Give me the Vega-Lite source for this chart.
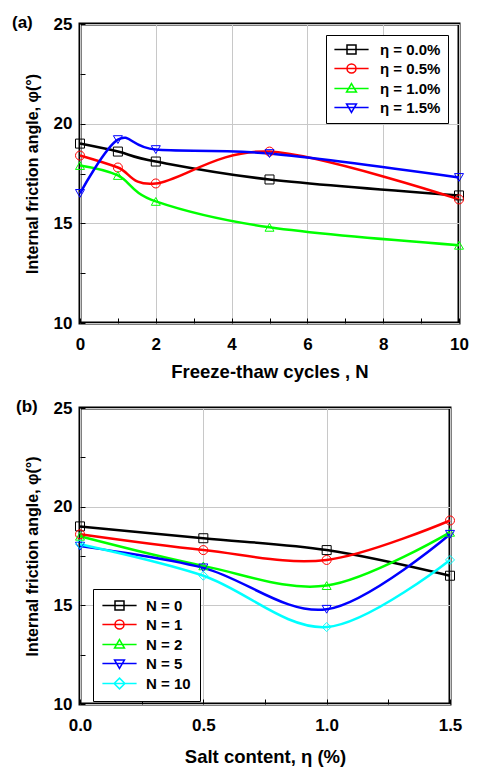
{
  "$schema": "https://vega.github.io/schema/vega-lite/v6.json",
  "padding": {"left": 10, "top": 12, "right": 5, "bottom": 0},
  "background": "white",
  "spacing": 14,
  "resolve": {"scale": {"color": "independent"}, "legend": {"color": "independent"}},
  "config": {
    "font": "Liberation Sans",
    "view": {"stroke": "black", "strokeWidth": 3},
    "axis": {
      "labelFont": "Liberation Sans", "labelFontSize": 17, "labelFontWeight": "bold", "labelColor": "black",
      "titleFont": "Liberation Sans", "titleFontSize": 18.5, "titleFontWeight": "bold", "titleColor": "black",
      "domain": false, "tickColor": "black", "tickSize": -5, "tickWidth": 1,
      "gridColor": "#c8c8c8", "gridWidth": 1, "labelFlush": false
    },
    "axisX": {"titlePadding": 10, "labelPadding": 18},
    "axisY": {"titlePadding": 13, "labelPadding": 13, "titleFontSize": 16},
    "point": {"filled": false, "size": 81, "strokeWidth": 1, "opacity": 1},
    "title": {"font": "Liberation Sans", "fontSize": 17, "fontWeight": "bold", "anchor": "start", "frame": "group", "color": "black"}
  },
  "vconcat": [
    {
      "width": 379,
      "height": 299,
      "title": {"text": "(a)", "dx": -68, "dy": 30, "baseline": "alphabetic", "offset": 0},
      "data": {"values": [
        {"series": "η = 0.0%", "N": 0, "phi": 19.0},
        {"series": "η = 0.0%", "N": 1, "phi": 18.6},
        {"series": "η = 0.0%", "N": 2, "phi": 18.1},
        {"series": "η = 0.0%", "N": 5, "phi": 17.2},
        {"series": "η = 0.0%", "N": 10, "phi": 16.4},
        {"series": "η = 0.5%", "N": 0, "phi": 18.4},
        {"series": "η = 0.5%", "N": 1, "phi": 17.8},
        {"series": "η = 0.5%", "N": 2, "phi": 17.0},
        {"series": "η = 0.5%", "N": 5, "phi": 18.6},
        {"series": "η = 0.5%", "N": 10, "phi": 16.2},
        {"series": "η = 1.0%", "N": 0, "phi": 17.9},
        {"series": "η = 1.0%", "N": 1, "phi": 17.4},
        {"series": "η = 1.0%", "N": 2, "phi": 16.1},
        {"series": "η = 1.0%", "N": 5, "phi": 14.8},
        {"series": "η = 1.0%", "N": 10, "phi": 13.9},
        {"series": "η = 1.5%", "N": 0, "phi": 16.5},
        {"series": "η = 1.5%", "N": 1, "phi": 19.2},
        {"series": "η = 1.5%", "N": 2, "phi": 18.7},
        {"series": "η = 1.5%", "N": 5, "phi": 18.5},
        {"series": "η = 1.5%", "N": 10, "phi": 17.3}
      ]},
      "encoding": {
        "x": {
          "field": "N", "type": "quantitative",
          "scale": {"domain": [0, 10], "nice": false},
          "axis": {
            "values": [0, 1, 2, 3, 4, 5, 6, 7, 8, 9, 10],
            "labelExpr": "datum.value % 2 === 0 ? datum.label : ''",
            "gridOpacity": {"condition": {"test": "datum.value % 2 === 0", "value": 1}, "value": 0},
            "title": "Freeze-thaw cycles , N"
          }
        },
        "y": {
          "field": "phi", "type": "quantitative",
          "scale": {"domain": [10, 25], "nice": false, "zero": false},
          "axis": {
            "values": [10, 12.5, 15, 17.5, 20, 22.5, 25],
            "labelExpr": "datum.value % 5 === 0 ? datum.label : ''",
            "gridOpacity": {"condition": {"test": "datum.value % 5 === 0", "value": 1}, "value": 0},
            "title": "Internal friction angle, φ(°)"
          }
        },
        "color": {"field": "series", "type": "nominal",
          "scale": {"domain": ["η = 0.0%", "η = 0.5%", "η = 1.0%", "η = 1.5%"], "range": ["#000000", "#ff0000", "#00ff00", "#0000ff"]},
          "legend": {"orient": "none", "legendX": 246, "legendY": 11, "title": null,
            "strokeColor": "black", "fillColor": "white", "padding": 7,
            "labelFont": "Liberation Sans", "labelFontSize": 15, "labelFontWeight": "bold", "labelColor": "black",
            "symbolSize": 81, "symbolStrokeWidth": 1.5, "symbolFillColor": "transparent", "symbolOffset": 11, "labelOffset": 21, "rowPadding": 3,
            "encoding": {"symbols": {"shape": {"value": {"expr": "['M-3.8,0H3.8M-1,-1H1V1H-1Z','M-3.8,0H3.8M1,0A1,1,0,1,1,-1,0A1,1,0,1,1,1,0Z','M-3.8,0H3.8M0,-1.1L1.1,0.8H-1.1Z','M-3.8,0H3.8M0,1.1L1.1,-0.8H-1.1Z'][indexof(['η = 0.0%','η = 0.5%','η = 1.0%','η = 1.5%'], datum.value)]"}}, "fill": {"value": "transparent"}}}
          }}
      },
      "layer": [
        {"mark": {"type": "line", "interpolate": "cardinal", "strokeWidth": 2.5}},
        {"transform": [{"filter": {"field": "series", "equal": "η = 0.0%"}}], "mark": {"type": "point", "shape": "square"}},
        {"transform": [{"filter": {"field": "series", "equal": "η = 0.5%"}}], "mark": {"type": "point", "shape": "circle"}},
        {"transform": [{"filter": {"field": "series", "equal": "η = 1.0%"}}], "mark": {"type": "point", "shape": "triangle-up"}},
        {"transform": [{"filter": {"field": "series", "equal": "η = 1.5%"}}], "mark": {"type": "point", "shape": "triangle-down"}}
      ]
    },
    {
      "width": 370,
      "height": 296,
      "title": {"text": "(b)", "dx": -64, "dy": 30, "baseline": "alphabetic", "offset": 0},
      "data": {"values": [
        {"series": "N = 0", "eta": 0, "phi": 19.0},
        {"series": "N = 0", "eta": 0.5, "phi": 18.4},
        {"series": "N = 0", "eta": 1.0, "phi": 17.8},
        {"series": "N = 0", "eta": 1.5, "phi": 16.5},
        {"series": "N = 1", "eta": 0, "phi": 18.6},
        {"series": "N = 1", "eta": 0.5, "phi": 17.8},
        {"series": "N = 1", "eta": 1.0, "phi": 17.3},
        {"series": "N = 1", "eta": 1.5, "phi": 19.3},
        {"series": "N = 2", "eta": 0, "phi": 18.5},
        {"series": "N = 2", "eta": 0.5, "phi": 17.0},
        {"series": "N = 2", "eta": 1.0, "phi": 16.0},
        {"series": "N = 2", "eta": 1.5, "phi": 18.7},
        {"series": "N = 5", "eta": 0, "phi": 18.0},
        {"series": "N = 5", "eta": 0.5, "phi": 16.9},
        {"series": "N = 5", "eta": 1.0, "phi": 14.8},
        {"series": "N = 5", "eta": 1.5, "phi": 18.6},
        {"series": "N = 10", "eta": 0, "phi": 18.1},
        {"series": "N = 10", "eta": 0.5, "phi": 16.5},
        {"series": "N = 10", "eta": 1.0, "phi": 13.9},
        {"series": "N = 10", "eta": 1.5, "phi": 17.3}
      ]},
      "encoding": {
        "x": {
          "field": "eta", "type": "quantitative",
          "scale": {"domain": [0, 1.5], "nice": false},
          "axis": {
            "values": [0, 0.25, 0.5, 0.75, 1.0, 1.25, 1.5],
            "labelExpr": "(datum.value * 2) % 1 === 0 ? format(datum.value, '.1f') : ''",
            "gridOpacity": {"condition": {"test": "(datum.value * 2) % 1 === 0", "value": 1}, "value": 0},
            "title": "Salt content, η (%)",
            "titlePadding": 14
          }
        },
        "y": {
          "field": "phi", "type": "quantitative",
          "scale": {"domain": [10, 25], "nice": false, "zero": false},
          "axis": {
            "values": [10, 12.5, 15, 17.5, 20, 22.5, 25],
            "labelExpr": "datum.value % 5 === 0 ? datum.label : ''",
            "gridOpacity": {"condition": {"test": "datum.value % 5 === 0", "value": 1}, "value": 0},
            "title": "Internal friction angle, φ(°)"
          }
        },
        "color": {"field": "series", "type": "nominal",
          "scale": {"domain": ["N = 0", "N = 1", "N = 2", "N = 5", "N = 10"], "range": ["#000000", "#ff0000", "#00ff00", "#0000ff", "#00ffff"]},
          "legend": {"orient": "none", "legendX": 13, "legendY": 181, "title": null,
            "strokeColor": "black", "fillColor": "white", "padding": 9,
            "labelFont": "Liberation Sans", "labelFontSize": 15, "labelFontWeight": "bold", "labelColor": "black",
            "symbolSize": 81, "symbolStrokeWidth": 1.5, "symbolFillColor": "transparent", "symbolOffset": 10, "labelOffset": 19, "rowPadding": 3,
            "encoding": {"symbols": {"shape": {"value": {"expr": "['M-3.8,0H3.8M-1,-1H1V1H-1Z','M-3.8,0H3.8M1,0A1,1,0,1,1,-1,0A1,1,0,1,1,1,0Z','M-3.8,0H3.8M0,-1.1L1.1,0.8H-1.1Z','M-3.8,0H3.8M0,1.1L1.1,-0.8H-1.1Z','M-3.8,0H3.8M0,-1.2L1.2,0L0,1.2L-1.2,0Z'][indexof(['N = 0','N = 1','N = 2','N = 5','N = 10'], datum.value)]"}}, "fill": {"value": "transparent"}}}
          }}
      },
      "layer": [
        {"mark": {"type": "line", "interpolate": "cardinal", "strokeWidth": 2.5}},
        {"transform": [{"filter": {"field": "series", "equal": "N = 0"}}], "mark": {"type": "point", "shape": "square"}},
        {"transform": [{"filter": {"field": "series", "equal": "N = 1"}}], "mark": {"type": "point", "shape": "circle"}},
        {"transform": [{"filter": {"field": "series", "equal": "N = 2"}}], "mark": {"type": "point", "shape": "triangle-up"}},
        {"transform": [{"filter": {"field": "series", "equal": "N = 5"}}], "mark": {"type": "point", "shape": "triangle-down"}},
        {"transform": [{"filter": {"field": "series", "equal": "N = 10"}}], "mark": {"type": "point", "shape": "diamond"}}
      ]
    }
  ]
}
